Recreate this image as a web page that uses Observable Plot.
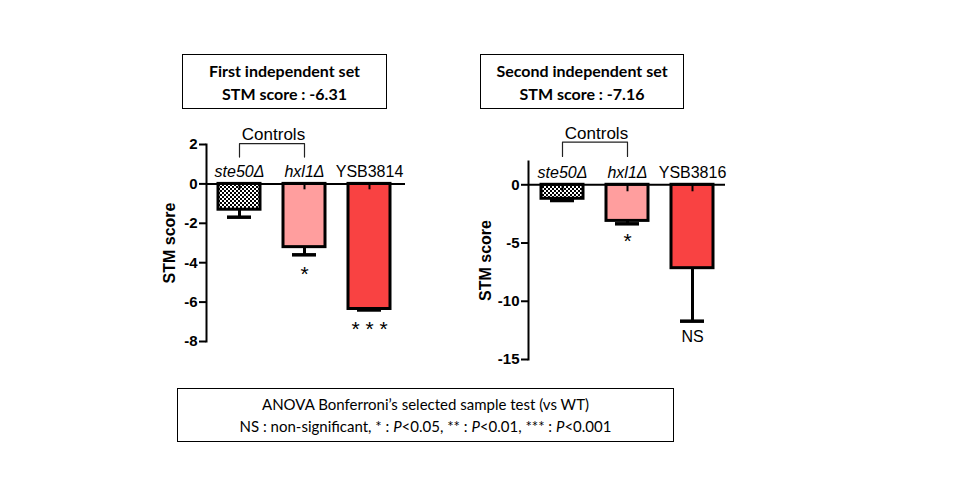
<!DOCTYPE html>
<html>
<head>
<meta charset="utf-8">
<script src="https://cdn.jsdelivr.net/npm/d3@7"></script>
<script src="https://cdn.jsdelivr.net/npm/@observablehq/plot@0.6"></script>
<style>
  html, body { margin: 0; padding: 0; background: #fff; }
  #root { position: relative; width: 960px; height: 500px; overflow: hidden; background: #fff; }
  .box { position: absolute; box-sizing: border-box; border: 1.3px solid #000; display: flex; flex-direction: column; justify-content: center; align-items: center; font-family: Lato, "Open Sans", sans-serif; color: #000; }
  .title { font-weight: bold; font-size: 16px; line-height: 23px; }
  .note { font-size: 15px; line-height: 22px; }
  .panel { position: absolute; }
  .panel g[aria-label="y-axis tick label"] { font-size: 15px; font-weight: bold; }
</style>
</head>
<body>
<div id="root"></div>
<script>
// ---- data ----
const categories1 = ["ste50Δ", "hxl1Δ", "YSB3814"];
const means1 = [-1.31, -3.21, -6.35];
const sems1 = [0.38, 0.39, 0.05];
const signif1 = ["", "*", "***"];
const yTicks1 = [2, 0, -2, -4, -6, -8];
const title1 = ["First independent set", "STM score : -6.31"];

const categories2 = ["ste50Δ", "hxl1Δ", "YSB3816"];
const means2 = [-1.2, -3.1, -7.16];
const sems2 = [0.15, 0.25, 4.55];
const signif2 = ["", "*", "NS"];
const yTicks2 = [0, -5, -10, -15];
const title2 = ["Second independent set", "STM score : -7.16"];

const bracketLabel = "Controls";
const yLabel = "STM score";
const noteLines = [
  "ANOVA Bonferroni’s selected sample test (vs WT)",
  "NS : non-significant, * : <i>P</i>&lt;0.05, ** : <i>P</i>&lt;0.01, *** : <i>P</i>&lt;0.001"
];

const root = document.getElementById("root");

function addBox(lines, cls, left, top, width, height) {
  const d = document.createElement("div");
  d.className = "box";
  Object.assign(d.style, {left: left + "px", top: top + "px", width: width + "px", height: height + "px"});
  for (const l of lines) {
    const s = document.createElement("div");
    s.className = cls;
    s.innerHTML = l;
    d.appendChild(s);
  }
  root.appendChild(d);
}

function panel(cfg) {
  const rows = cfg.cats.map((c, i) => ({cat: c, mean: cfg.means[i], low: cfg.means[i] - cfg.sems[i], sig: cfg.sig[i]}));
  const bracket = [
    {x: cfg.cats[0], y: cfg.brBottom}, {x: cfg.cats[0], y: cfg.brTop},
    {x: cfg.cats[1], y: cfg.brTop}, {x: cfg.cats[1], y: cfg.brBottom}
  ];
  const pid = cfg.patternId;
  const svg = Plot.plot({
    width: cfg.width,
    height: cfg.height,
    marginLeft: cfg.marginLeft,
    marginRight: cfg.marginRight,
    marginTop: cfg.marginTop,
    marginBottom: cfg.marginBottom,
    style: {fontFamily: "'Liberation Sans', Arial, sans-serif", fontSize: "14px", background: "transparent", overflow: "visible", color: "#000"},
    x: {type: "band", domain: cfg.cats, range: cfg.xRange, paddingInner: 0.36, paddingOuter: 0.18, axis: null},
    y: {domain: cfg.yDomain, axis: null},
    color: {domain: cfg.cats, range: [`url(#${pid})`, "#FF9E9E", "#F94242"]},
    marks: [
      Plot.barY(rows, {x: "cat", y: "mean", fill: "cat", stroke: "#000", strokeWidth: 3}),
      Plot.ruleX(rows, {x: "cat", y1: 0, y2: cfg.stub, stroke: "#000", strokeWidth: 2}),
      Plot.ruleX(rows, {x: "cat", y1: "mean", y2: "low", stroke: "#000", strokeWidth: 3}),
      Plot.tickY(rows, {x: "cat", y: "low", stroke: "#000", strokeWidth: 3.5, inset: 9}),
      Plot.ruleY([0], {stroke: "#000", strokeWidth: 2}),
      Plot.frame({anchor: "left", stroke: "#000", strokeWidth: 2}),
      Plot.axisY({ticks: cfg.yTicks, tickSize: 7, tickPadding: 2, tickFormat: d => String(d), fontWeight: "bold", fontSize: 15, strokeWidth: 2, label: null}),
      Plot.text([yLabel], {frameAnchor: "left", textAnchor: "middle", lineAnchor: "middle", dx: cfg.labelDx, rotate: -90, text: d => d, fontWeight: "bold", fontSize: 16}),
      Plot.text(rows.slice(0, 2), {x: "cat", y: 0, dy: -12, text: "cat", fontStyle: "italic", fontSize: 16}),
      Plot.text(rows.slice(2), {x: "cat", y: 0, dy: -12, text: "cat", fontSize: 16}),
      Plot.line(bracket, {x: "x", y: "y", stroke: "#222", strokeWidth: 1.2}),
      Plot.text([bracketLabel], {x: [cfg.cats[0]], y: [cfg.brTop], dx: 34, dy: -9, text: d => d, fontSize: 17}),
      Plot.text(rows.filter(d => /^\*+$/.test(d.sig)), {x: "cat", y: "low", dy: cfg.starDy, text: d => d.sig.split("").join(" "), fontSize: 21}),
      Plot.text(rows.filter(d => d.sig && !/^\*+$/.test(d.sig)), {x: "cat", y: "low", dy: 16, text: "sig", fontSize: 16})
    ]
  });
  const defs = d3.select(svg).insert("defs", ":first-child");
  const pat = defs.append("pattern").attr("id", pid).attr("width", 4).attr("height", 4).attr("patternUnits", "userSpaceOnUse");
  pat.append("rect").attr("width", 4).attr("height", 4).attr("fill", "#fff");
  pat.append("rect").attr("width", 2).attr("height", 2).attr("fill", "#000");
  pat.append("rect").attr("x", 2).attr("y", 2).attr("width", 2).attr("height", 2).attr("fill", "#000");
  svg.classList.add("panel");
  svg.style.position = "absolute";
  svg.style.left = cfg.left + "px";
  svg.style.top = cfg.top + "px";
  root.appendChild(svg);
}

panel({
  cats: categories1, means: means1, sems: sems1, sig: signif1, yTicks: yTicks1,
  yDomain: [-8, 2], left: 150, top: 100, width: 270, height: 260,
  marginLeft: 56, marginRight: 15, marginTop: 44, marginBottom: 19,
  xRange: [55.3, 251.4], labelDx: -37, brTop: 2.04, brBottom: 1.36, stub: -0.3,
  starDy: 19, patternId: "checker1"
});
panel({
  cats: categories2, means: means2, sems: sems2, sig: signif2, yTicks: yTicks2,
  yDomain: [-15, 2], left: 460, top: 100, width: 280, height: 280,
  marginLeft: 68, marginRight: 15, marginTop: 61, marginBottom: 21,
  xRange: [68.5, 264.4], labelDx: -43, brTop: 3.66, brBottom: 2.43, stub: -0.6,
  starDy: 17, patternId: "checker2"
});

addBox(title1, "title", 182, 54, 205, 55);
addBox(title2, "title", 480, 54, 204, 55);
addBox(noteLines, "note", 177, 388, 497, 54);
</script>
</body>
</html>
